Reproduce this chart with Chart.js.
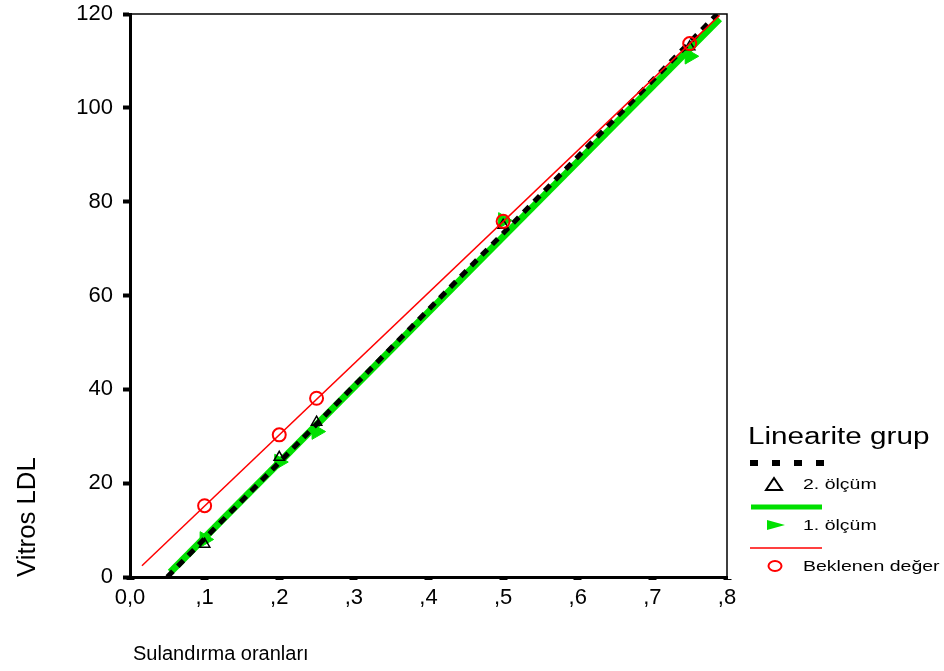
<!DOCTYPE html>
<html>
<head>
<meta charset="utf-8">
<script src="https://cdn.jsdelivr.net/npm/chart.js@4/dist/chart.umd.min.js"></script>
<style>
  html, body { margin: 0; padding: 0; background: #fff; }
  #wrap { position: relative; width: 944px; height: 671px; font-family: "Liberation Sans", Arial, sans-serif; color: #000; }
  #chart { position: absolute; left: 0; top: 0; }
  .lbl { position: absolute; white-space: nowrap; transform-origin: 0 0; }
  .sample { position: absolute; }
</style>
</head>
<body>
<div id="wrap">
  <canvas id="chart" width="944" height="671"></canvas>
  <div class="lbl" id="ytitle" style="left:12px;top:577px;font-size:25px;transform:rotate(-90deg) scaleX(1.03);">Vitros LDL</div>
  <div class="lbl" style="left:133px;top:642px;font-size:20px;">Sulandırma oranları</div>

  <div class="lbl" style="left:748px;top:423px;font-size:23px;transform:scaleX(1.29);">Linearite grup</div>
  <svg class="sample" style="left:748px;top:456px" width="80" height="120">
    <line x1="2" y1="7" x2="76" y2="7" stroke="#000" stroke-width="6" stroke-dasharray="8 14"/>
    <polygon points="18,34 26,22 34,34" fill="none" stroke="#000" stroke-width="2"/>
    <line x1="3" y1="51" x2="74" y2="51" stroke="#00e000" stroke-width="5"/>
    <polygon points="19,64 37,69 19,74" fill="#00e000"/>
    <line x1="2" y1="92" x2="74" y2="92" stroke="#ff0000" stroke-width="1.5"/>
    <ellipse cx="27" cy="110" rx="6.5" ry="5" fill="none" stroke="#ff0000" stroke-width="2"/>
  </svg>
  <div class="lbl" style="left:803px;top:475px;font-size:15px;transform:scaleX(1.3);">2. ölçüm</div>
  <div class="lbl" style="left:803px;top:516px;font-size:15px;transform:scaleX(1.3);">1. ölçüm</div>
  <div class="lbl" style="left:803px;top:557px;font-size:15px;transform:scaleX(1.3);">Beklenen değer</div>
</div>
<script>
// dilution ratios measured
const dilutions = [0.1, 0.2, 0.25, 0.5, 0.75];
const expectedValues = [15.2, 30.3, 38.1, 75.8, 113.7];
const measure1 = [8, 24.5, 31, 76, 111];
const measure2 = [7, 25.5, 33, 75, 113];

// fitted lines (start / end)
const fit1X = [0.054, 0.79];
const fit1Y = [1, 119];
const fit2X = [0.05, 0.787];
const fit2Y = [0, 120];
const expectedLineX = [0.016, 0.79];
const expectedLineY = [2.4, 119.7];

const xTicks = [0, 0.1, 0.2, 0.3, 0.4, 0.5, 0.6, 0.7, 0.8];
const xTickLabels = ["0,0", ",1", ",2", ",3", ",4", ",5", ",6", ",7", ",8"];
const yTicks = [0, 20, 40, 60, 80, 100, 120];

const pts = (xs, ys) => xs.map((x, i) => ({ x, y: ys[i] }));

const frame = {
  id: "frame",
  afterDatasetsDraw(chart) {
    const { ctx, chartArea: a } = chart;
    ctx.save();
    ctx.strokeStyle = "#000";
    ctx.lineWidth = 1.5;
    ctx.beginPath();
    ctx.moveTo(a.left, a.top);
    ctx.lineTo(a.right, a.top);
    ctx.lineTo(a.right, a.bottom);
    ctx.stroke();
    ctx.restore();
  },
};

new Chart(document.getElementById("chart"), {
  type: "scatter",
  data: {
    datasets: [
      {
        label: "Beklenen değer",
        data: pts(dilutions, expectedValues),
        pointStyle: "circle",
        pointRadius: 6.5,
        borderColor: "#ff0000",
        backgroundColor: "rgba(0,0,0,0)",
        borderWidth: 2,
        order: 0,
      },
      {
        label: "Beklenen değer line",
        data: pts(expectedLineX, expectedLineY),
        showLine: true,
        pointRadius: 0,
        borderColor: "#ff0000",
        borderWidth: 1.5,
        order: 1,
      },
      {
        label: "2. ölçüm",
        data: pts(dilutions, measure2),
        pointStyle: "triangle",
        pointRadius: 6,
        borderColor: "#000",
        backgroundColor: "rgba(0,0,0,0)",
        borderWidth: 1.5,
        order: 2,
      },
      {
        label: "2. ölçüm line",
        data: pts(fit2X, fit2Y),
        showLine: true,
        pointRadius: 0,
        borderColor: "#000",
        borderWidth: 5,
        borderDash: [8, 7],
        order: 3,
      },
      {
        label: "1. ölçüm",
        data: pts(dilutions, measure1),
        pointStyle: "triangle",
        pointRotation: 90,
        pointRadius: 9,
        borderColor: "#00e000",
        backgroundColor: "#00e000",
        borderWidth: 1,
        order: 4,
      },
      {
        label: "1. ölçüm line",
        data: pts(fit1X, fit1Y),
        showLine: true,
        pointRadius: 0,
        borderColor: "#00e000",
        borderWidth: 7,
        order: 5,
      },
    ],
  },
  options: {
    responsive: false,
    animation: false,
    layout: { padding: { left: 0, top: 14, right: 217, bottom: 0 } },
    plugins: {
      legend: { display: false },
      tooltip: { enabled: false },
    },
    scales: {
      x: {
        type: "linear",
        min: 0,
        max: 0.8,
        afterFit(scale) { scale.height = 94; scale.paddingLeft = 0; scale.paddingRight = 0; },
        afterBuildTicks(scale) { scale.ticks = xTicks.map((v) => ({ value: v })); },
        ticks: {
          color: "#000",
          font: { family: "Liberation Sans", size: 22 },
          padding: 5,
          maxRotation: 0,
          callback: (v) => xTickLabels[xTicks.findIndex((t) => Math.abs(t - v) < 1e-6)],
        },
        grid: { display: true, drawOnChartArea: false, drawTicks: true, tickLength: 3, tickWidth: 8, tickColor: "#000" },
        border: { display: true, color: "#000", width: 3 },
      },
      y: {
        type: "linear",
        min: 0,
        max: 120,
        afterFit(scale) { scale.width = 130; scale.paddingTop = 0; scale.paddingBottom = 0; },
        afterBuildTicks(scale) { scale.ticks = yTicks.map((v) => ({ value: v })); },
        ticks: {
          color: "#000",
          font: { family: "Liberation Sans", size: 22 },
          padding: 10,
        },
        grid: { display: true, drawOnChartArea: false, drawTicks: true, tickLength: 7, tickWidth: 4, tickColor: "#000" },
        border: { display: true, color: "#000", width: 3 },
      },
    },
  },
  plugins: [frame],
});
</script>
</body>
</html>
